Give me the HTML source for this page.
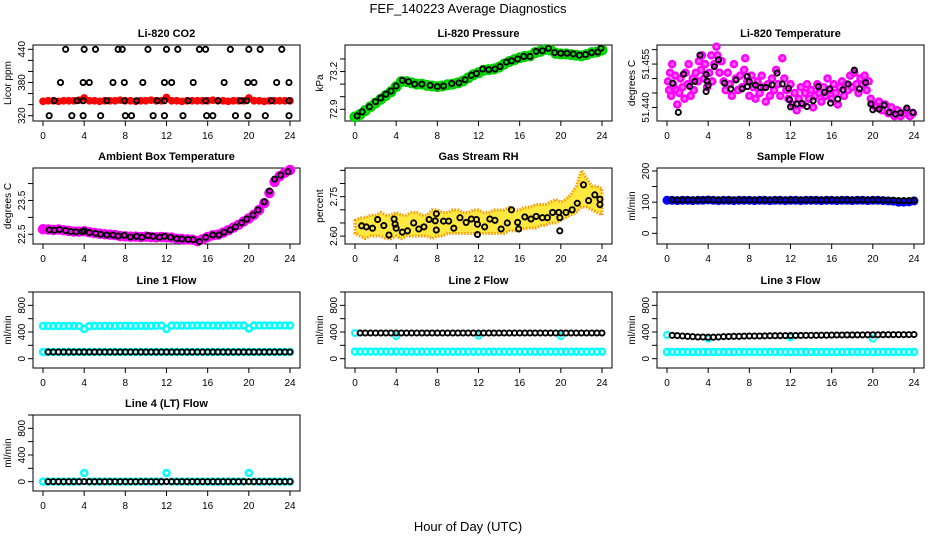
<!DOCTYPE html>
<html><head><meta charset="utf-8"><style>
html,body{margin:0;padding:0;background:#fff;}
svg{display:block;font-family:"Liberation Sans",Arial,sans-serif;}
</style></head><body>
<svg id="chart" width="936" height="540" viewBox="0 0 936 540" xmlns="http://www.w3.org/2000/svg">
<rect width="936" height="540" fill="#fff"/>
<text x="468" y="13" font-size="13" text-anchor="middle">FEF_140223  Average Diagnostics</text>
<text x="468" y="531" font-size="13" text-anchor="middle">Hour of Day (UTC)</text>
</svg>
<script>
const NS="http://www.w3.org/2000/svg";
const svg=document.getElementById('chart');

const hours49=[0,0.5,1,1.5,2,2.5,3,3.5,4,4.5,5,5.5,6,6.5,7,7.5,8,8.5,9,9.5,10,10.5,11,11.5,12,12.5,13,13.5,14,14.5,15,15.5,16,16.5,17,17.5,18,18.5,19,19.5,20,20.5,21,21.5,22,22.5,23,23.5,24];
const xTicks=[0,4,8,12,16,20,24];

// CO2
const co2Red=[346,347,347,346,347,347,347,348,352,347,347,346,347,347,347,348,347,347,346,347,347,348,347,347,353,347,347,346,347,347,347,347,347,348,347,347,346,347,347,347,352,347,347,346,347,347,347,347,347];
const co440H=[2.2,4,5.1,7.3,7.7,10.2,12,13.1,15.2,15.8,18.2,20,21.1,23.2];
const co380H=[1.7,3.9,4.5,6.8,7.9,9.7,11.8,12.5,14.6,17.6,19.9,20.5,22.7,23.9];
const co347H=[1.1,3.3,3.9,6.2,7.9,9.1,11.1,11.8,14.1,15.8,17,19.2,19.8,22.2,23.9];
const co320H=[0.6,2.8,3.9,5.6,8,8.6,10.7,11.8,13.6,15.9,16.5,18.7,19.9,21.6,23.9];
const coLevels=[440,380,347,320];

// Pressure
const presGreen=[72.84,72.86,72.89,72.92,72.95,72.98,73.01,73.04,73.08,73.12,73.12,73.11,73.10,73.10,73.09,73.085,73.08,73.085,73.095,73.10,73.11,73.125,73.15,73.175,73.19,73.21,73.215,73.22,73.235,73.26,73.28,73.295,73.31,73.32,73.325,73.35,73.36,73.375,73.37,73.345,73.34,73.34,73.335,73.33,73.325,73.335,73.35,73.355,73.37];
const presH=[0.2,0.7,1.4,2,2.5,3,3.5,4,4.6,5.2,5.8,6.5,7.3,8,8.6,9.4,10.1,10.7,11.3,11.8,12.4,13,13.6,14.1,14.7,15.2,15.8,16.4,17,17.6,18.2,18.8,19.4,20,20.6,21.2,21.8,22.4,23,23.6,23.9];
const presV=[72.847,72.88,72.92,72.96,72.99,73.02,73.045,73.085,73.13,73.12,73.10,73.10,73.09,73.08,73.085,73.105,73.11,73.135,73.17,73.185,73.22,73.215,73.22,73.24,73.275,73.285,73.30,73.32,73.32,73.36,73.365,73.385,73.35,73.345,73.345,73.34,73.33,73.335,73.35,73.355,73.385];

// Li-820 temperature
const tempMH=[0.1,0.2,0.3,0.4,0.5,0.6,0.8,0.9,1.0,1.2,1.3,1.5,1.7,1.8,2.0,2.1,2.3,2.5,2.6,2.8,3.0,3.1,3.3,3.4,3.6,3.7,3.9,4.1,4.3,4.4,4.6,4.8,4.9,5.1,5.3,5.5,5.7,5.9,6.1,6.3,6.5,6.7,6.9,7.1,7.3,7.5,7.6,7.8,8.0,8.2,8.4,8.6,8.8,9.0,9.2,9.4,9.6,9.8,10.0,10.2,10.4,10.6,10.8,11.0,11.2,11.4,11.6,11.8,12.0,12.2,12.4,12.6,12.8,13.0,13.2,13.4,13.6,13.8,14.0,14.2,14.4,14.6,14.8,15.0,15.2,15.4,15.6,15.8,16.0,16.2,16.4,16.6,16.8,17.0,17.2,17.4,17.6,17.8,18.0,18.2,18.4,18.6,18.8,19.0,19.2,19.4,19.6,19.8,20.0,20.3,20.6,20.9,21.2,21.5,21.8,22.1,22.4,22.7,23.0,23.3,23.6,23.9];
const tempMV=[51.449,51.446,51.452,51.444,51.455,51.448,51.451,51.446,51.441,51.445,51.450,51.447,51.443,51.452,51.448,51.455,51.444,51.450,51.446,51.452,51.449,51.456,51.453,51.458,51.450,51.455,51.447,51.452,51.458,51.449,51.455,51.461,51.458,51.452,51.456,51.449,51.446,51.452,51.448,51.444,51.455,51.450,51.446,51.451,51.447,51.453,51.457,51.449,51.444,51.451,51.447,51.443,51.449,51.445,51.451,51.447,51.442,51.448,51.444,51.450,51.446,51.453,51.448,51.444,51.457,51.450,51.446,51.443,51.448,51.441,51.445,51.439,51.443,51.447,51.441,51.445,51.448,51.443,51.446,51.440,51.444,51.448,51.445,51.442,51.447,51.444,51.450,51.446,51.443,51.448,51.445,51.441,51.447,51.449,51.444,51.448,51.446,51.451,51.447,51.452,51.448,51.445,51.450,51.448,51.451,51.446,51.449,51.443,51.441,51.440,51.442,51.439,51.441,51.438,51.440,51.437,51.439,51.437,51.438,51.439,51.437,51.438];
const tempH=[0.55,1.1,1.6,2.2,2.7,3.2,3.8,3.9,4.0,3.8,4.6,5.0,5.6,6.2,6.7,7.3,7.8,7.8,8.0,8.6,9.1,9.6,10.2,10.7,11.2,11.8,11.9,12.0,12.6,13.1,13.6,14.2,14.7,15.3,15.8,15.9,16.6,17.1,17.6,18.2,18.7,19.3,19.8,20.0,20.6,21.1,21.6,22.2,22.7,23.3,23.9];
const tempV=[51.4484,51.4383,51.4515,51.4473,51.4490,51.4581,51.4514,51.4491,51.4477,51.4455,51.4541,51.4565,51.4484,51.4464,51.4495,51.4464,51.4472,51.4507,51.4489,51.4477,51.4469,51.4469,51.4478,51.4519,51.4481,51.4466,51.4427,51.4402,51.4412,51.4414,51.4403,51.4423,51.4472,51.4452,51.4464,51.4415,51.4429,51.4461,51.4481,51.4529,51.4464,51.4486,51.4412,51.4392,51.4394,51.4408,51.4383,51.4377,51.4381,51.4398,51.4383];

// Ambient
const ambMag=[22.65,22.64,22.63,22.64,22.62,22.6,22.58,22.58,22.59,22.56,22.54,22.52,22.5,22.49,22.48,22.45,22.44,22.43,22.43,22.42,22.43,22.42,22.41,22.42,22.41,22.4,22.37,22.36,22.35,22.34,22.3,22.35,22.42,22.47,22.49,22.55,22.62,22.7,22.78,22.88,22.97,23.08,23.22,23.42,23.72,24.05,24.22,24.32,24.4];
const ambH=[0.6,1.1,1.6,2.2,2.7,3.2,3.8,4.0,4.5,5.1,5.6,6.2,6.8,7.3,7.9,8.5,9.1,9.6,10.2,10.7,11.3,11.8,12.4,13,13.5,14.1,14.6,15.2,15.8,16.5,17.1,17.6,18.2,18.7,19.3,19.8,20.4,20.9,21.5,22,22.5,23.1,23.8];
const ambV=[22.63,22.62,22.64,22.61,22.58,22.57,22.58,22.6,22.55,22.53,22.5,22.48,22.48,22.45,22.47,22.42,22.44,22.41,22.46,22.44,22.41,22.44,22.41,22.37,22.36,22.35,22.34,22.28,22.41,22.48,22.48,22.56,22.63,22.72,22.84,22.95,23.07,23.22,23.46,23.78,24.13,24.25,24.35];

// Gas stream RH
const rhHi=[2.66,2.67,2.67,2.68,2.68,2.69,2.68,2.68,2.69,2.68,2.68,2.69,2.69,2.68,2.68,2.70,2.70,2.69,2.69,2.70,2.70,2.69,2.69,2.70,2.70,2.69,2.69,2.70,2.70,2.70,2.71,2.70,2.70,2.71,2.71,2.72,2.72,2.72,2.73,2.74,2.73,2.74,2.76,2.79,2.85,2.82,2.79,2.79,2.78];
const rhLo=[2.61,2.60,2.59,2.60,2.60,2.60,2.59,2.59,2.60,2.59,2.60,2.60,2.60,2.60,2.60,2.59,2.60,2.60,2.61,2.61,2.61,2.61,2.61,2.61,2.61,2.61,2.61,2.61,2.61,2.61,2.62,2.62,2.62,2.63,2.63,2.63,2.64,2.64,2.65,2.65,2.66,2.67,2.68,2.69,2.71,2.71,2.70,2.69,2.68];
const rhH=[0.65,1.1,1.7,2.2,2.8,3.3,3.8,3.9,4.0,4.6,5.1,5.7,6.2,6.7,7.2,7.8,7.9,7.9,8.6,9.1,9.6,10.2,10.8,11.3,11.8,11.9,11.9,12.6,13.1,13.6,14.2,14.8,15.2,15.8,15.9,16.5,17.1,17.6,18.2,18.7,19.2,19.8,19.9,19.9,20.5,21.1,21.6,22.2,22.7,23.3,23.8,23.8];
const rhV=[2.639,2.635,2.63,2.663,2.64,2.604,2.665,2.645,2.63,2.615,2.62,2.65,2.627,2.635,2.663,2.658,2.685,2.623,2.657,2.657,2.63,2.67,2.652,2.665,2.663,2.645,2.606,2.635,2.665,2.66,2.627,2.65,2.7,2.652,2.627,2.673,2.665,2.675,2.67,2.67,2.69,2.69,2.67,2.62,2.69,2.7,2.725,2.795,2.735,2.757,2.74,2.72];

// Sample flow
const sampBlue=[106,106,105,106,106,105,106,106,107,106,105,106,106,105,106,106,106,105,106,106,105,106,106,105,106,106,105,106,106,106,105,106,106,105,106,106,105,106,106,105,106,106,105,104,103,100,100,101,104];
const sampBlack=[null,107,107,107,107,107,107,107,108,107,107,107,107,107,107,107,107,107,107,107,107,107,107,107,107,107,107,107,107,107,107,107,107,107,107,107,107,107,107,107,107,107,107,106,106,105,105,105,106];

// Line flows
const l1Cyan=[490,490,488,490,489,490,490,489,445,489,490,490,491,490,490,492,493,491,490,492,491,492,493,495,445,495,496,496,496,496,497,497,497,496,496,496,497,497,497,497,450,497,497,497,497,497,497,497,497];
const l1CyanLow=[100,100,100,100,100,100,100,100,100,100,100,100,100,100,100,100,100,100,100,100,100,100,100,100,100,100,100,100,100,100,100,100,100,100,100,100,100,100,100,100,100,100,100,100,100,100,100,100,100];
const l1Black=[null,100,100,100,100,100,100,100,100,100,100,100,100,100,100,100,100,100,100,100,100,100,100,100,100,100,100,100,100,100,100,100,100,100,100,100,100,100,100,100,100,100,100,100,100,100,100,100,100];
const l2Cyan=[105,105,105,105,105,105,105,105,105,105,104,104,104,104,104,104,104,104,104,104,104,104,104,104,104,104,104,104,104,104,104,104,104,104,104,104,104,104,104,104,104,104,104,104,104,104,104,104,104];
const l2CyanHiH=[0,4,12,20];
const l2CyanHiV=[385,340,345,340];
const l2Black=[null,385,385,385,385,385,385,385,385,385,385,385,385,385,385,385,385,385,385,385,385,385,385,385,385,385,385,385,385,385,385,385,385,385,385,385,385,385,385,385,385,385,385,385,385,385,385,385,385];
const l3Cyan=[100,100,100,100,100,100,100,100,100,100,100,100,100,100,100,100,100,100,100,100,100,100,100,100,100,100,100,100,100,100,100,100,100,100,100,100,100,100,100,100,100,100,100,100,100,100,100,100,100];
const l3CyanHiH=[0,4,12,20];
const l3CyanHiV=[355,300,320,300];
const l3Black=[null,350,345,340,335,330,325,325,322,322,325,330,332,335,335,338,340,340,340,342,343,344,345,345,346,347,348,350,350,350,352,352,354,355,355,356,356,357,357,358,358,358,359,360,360,360,360,360,362];
const l4Cyan=[0,0,0,0,0,0,0,0,130,0,0,0,0,0,0,0,0,0,0,0,0,0,0,0,130,0,0,0,0,0,0,0,0,0,0,0,0,0,0,0,130,0,0,0,0,0,0,0,0];
const l4Black=[null,0,0,0,0,0,0,0,0,0,0,0,0,0,0,0,0,0,0,0,0,0,0,0,0,0,0,0,0,0,0,0,0,0,0,0,0,0,0,0,0,0,0,0,0,0,0,0,0];

// ---------- layout ----------
const colX0=[43,355,667], rowTop=[45,168,292,415], BOXH=76, PXH=247/24;
function P(col,row,ymin,ymax){
  const x0=colX0[col], top=rowTop[row];
  return {left:x0-10,right:x0+257,top:top,bottom:top+BOXH,
    x:h=>x0+h*PXH, y:v=>top+(ymax-v)/(ymax-ymin)*BOXH};
}
function el(tag){return document.createElementNS(NS,tag);}

function axes(p,title,ylab,yTicks,yLabVals,yLabTxt,key){
  const g=el('g');
  
  
  svg.appendChild(g);
  const b=el('rect');
  b.setAttribute('x',p.left);b.setAttribute('y',p.top);b.setAttribute('width',p.right-p.left);b.setAttribute('height',BOXH);
  b.setAttribute('fill','none');b.setAttribute('stroke','#000');b.setAttribute('stroke-width','1');
  
  
  g.appendChild(b);
  const t=el('text');
  t.setAttribute('x',(p.left+p.right)/2);t.setAttribute('y',p.top-8);t.setAttribute('font-size','11');t.setAttribute('font-weight','bold');t.setAttribute('text-anchor','middle');
  t.textContent=title;
  
  
  g.appendChild(t);
  xTicks.forEach(h=>{
    const l=el('line');
    l.setAttribute('x1',p.x(h));l.setAttribute('x2',p.x(h));l.setAttribute('y1',p.bottom);l.setAttribute('y2',p.bottom+5);l.setAttribute('stroke','#000');
    
    
    g.appendChild(l);
    const tx=el('text');
    tx.setAttribute('x',p.x(h));tx.setAttribute('y',p.bottom+18);tx.setAttribute('font-size','10');tx.setAttribute('text-anchor','middle');
    tx.textContent=String(h);
    
    
    g.appendChild(tx);
  });
  yTicks.forEach(v=>{
    const y=p.y(v); if(y<p.top-0.5||y>p.bottom+0.5) return;
    const l=el('line');
    l.setAttribute('x1',p.left);l.setAttribute('x2',p.left-5);l.setAttribute('y1',y);l.setAttribute('y2',y);l.setAttribute('stroke','#000');
    
    
    g.appendChild(l);
  });
  yLabVals.forEach((v,i)=>{
    const y=p.y(v), xx=p.left-8;
    const tx=el('text');
    tx.setAttribute('x',xx);tx.setAttribute('y',y);tx.setAttribute('font-size','10');tx.setAttribute('text-anchor','middle');
    tx.setAttribute('transform','rotate(-90 '+xx+' '+y+')');
    tx.textContent=yLabTxt[i];
    
    
    g.appendChild(tx);
  });
  const yt=el('text'), ym=(p.top+p.bottom)/2, yx=p.left-22;
  yt.setAttribute('x',yx);yt.setAttribute('y',ym);yt.setAttribute('font-size','10');yt.setAttribute('text-anchor','middle');
  yt.setAttribute('transform','rotate(-90 '+yx+' '+ym+')');
  yt.textContent=ylab;
  
  
  g.appendChild(yt);
}
function pts(p,xs,ys,color,r,sw,fill,name){
  const g=el('g');
  
  
  svg.appendChild(g);
  xs.forEach((h,i)=>{
    const v=ys[i]; if(v===null||v===undefined) return;
    const c=el('circle');
    c.setAttribute('cx',p.x(h));c.setAttribute('cy',p.y(v));c.setAttribute('r',r);
    c.setAttribute('fill',fill);c.setAttribute('stroke',color);c.setAttribute('stroke-width',sw);
    
    
    g.appendChild(c);
  });
}
function band(p,xs,lo,hi,fill,stroke,name){
  let d='M'+xs.map((h,i)=>p.x(h)+','+p.y(hi[i])).join(' L');
  for(let i=xs.length-1;i>=0;i--) d+=' L'+p.x(xs[i])+','+p.y(lo[i]);
  d+='Z';
  const pa=el('path');
  pa.setAttribute('d',d);pa.setAttribute('fill',fill);pa.setAttribute('stroke',stroke);pa.setAttribute('stroke-width','3');pa.setAttribute('stroke-dasharray','1.5 1.5');
  
  
  svg.appendChild(pa);
}
const K='#000';
// CO2
let p=P(0,0,310.4,447.8);
axes(p,'Li-820 CO2','Licor ppm',[320,340,360,380,400,420,440],[320,380,440],['320','380','440'],'co2');
pts(p,hours49,co2Red,'#ff0000',2.6,2.5,'#ff0000','co2-red');
pts(p,co440H,co440H.map(()=>coLevels[0]),K,2.6,1.9,'none','co2-black-440');
pts(p,co380H,co380H.map(()=>coLevels[1]),K,2.6,1.9,'none','co2-black-380');
pts(p,co347H,co347H.map(()=>coLevels[2]),K,2.6,1.9,'none','co2-black-347');
pts(p,co320H,co320H.map(()=>coLevels[3]),K,2.6,1.9,'none','co2-black-320');
// Pressure
p=P(1,0,72.807,73.411);
axes(p,'Li-820 Pressure','kPa',[72.9,73.0,73.1,73.2,73.3],[72.9,73.2],['72.9','73.2'],'pressure');
pts(p,hours49,presGreen,'#00d000',4.5,2,'#00ee00','pressure-green');
pts(p,presH,presV,K,2.6,1.9,'none','pressure-black');
// Temperature
p=P(2,0,51.4353,51.4616);
axes(p,'Li-820 Temperature','degrees C',[51.440,51.445,51.450,51.455,51.460],[51.440,51.455],['51.440','51.455'],'temperature');
pts(p,tempMH,tempMV,'#ff00ff',3,2.5,'#ff66ff','temperature-magenta');
pts(p,tempH,tempV,K,2.6,1.9,'none','temperature-black');
// Ambient
p=P(0,1,22.213,24.46);
axes(p,'Ambient Box Temperature','degrees C',[22.5,23,23.5,24],[22.5,23.5],['22.5','23.5'],'ambient');
pts(p,hours49,ambMag,'#ff00ff',4,2.5,'#ff00ff','ambient-magenta');
pts(p,ambH,ambV,K,2.6,1.9,'none','ambient-black');
// RH
p=P(1,1,2.57,2.859);
axes(p,'Gas Stream RH','percent',[2.60,2.65,2.70,2.75,2.80,2.85],[2.60,2.75],['2.60','2.75'],'rh');
band(p,hours49,rhLo,rhHi,'#ffe840','#ff9900','rh-orange');
pts(p,rhH,rhV,K,2.6,1.9,'none','rh-black');
// Sample flow
p=P(2,1,-34.3,209.6);
axes(p,'Sample Flow','ml/min',[0,50,100,150,200],[0,100,200],['0','100','200'],'sample-flow');
pts(p,hours49,sampBlue,'#0000ff',3.5,2,'#0000ff','sample-flow-blue');
pts(p,hours49,sampBlack,K,2.6,1.9,'none','sample-flow-black');
// Line flows
const fT=[0,200,400,600,800,1000], fL=[0,400,800], fLT=['0','400','800'];
p=P(0,2,-140,1000);
axes(p,'Line 1 Flow','ml/min',fT,fL,fLT,'line1');
pts(p,hours49,l1Cyan,'#00ffff',3,2.5,'none','line1-cyan-high');
pts(p,hours49,l1CyanLow,'#00ffff',3,2.5,'none','line1-cyan-low');
pts(p,hours49,l1Black,K,2.6,1.9,'none','line1-black');
p=P(1,2,-140,1000);
axes(p,'Line 2 Flow','ml/min',fT,fL,fLT,'line2');
pts(p,hours49,l2Cyan,'#00ffff',3,2.5,'none','line2-cyan');
pts(p,l2CyanHiH,l2CyanHiV,'#00ffff',3,2,'none','line2-cyan-high');
pts(p,hours49,l2Black,K,2.6,1.9,'none','line2-black');
p=P(2,2,-140,1000);
axes(p,'Line 3 Flow','ml/min',fT,fL,fLT,'line3');
pts(p,hours49,l3Cyan,'#00ffff',3,2.5,'none','line3-cyan');
pts(p,l3CyanHiH,l3CyanHiV,'#00ffff',3,2,'none','line3-cyan-high');
pts(p,hours49,l3Black,K,2.6,1.9,'none','line3-black');
p=P(0,3,-140,1000);
axes(p,'Line 4 (LT) Flow','ml/min',fT,fL,fLT,'line4');
pts(p,hours49,l4Cyan,'#00ffff',3,2.5,'none','line4-cyan');
pts(p,hours49,l4Black,K,2.6,1.9,'none','line4-black');
</script>
</body></html>
